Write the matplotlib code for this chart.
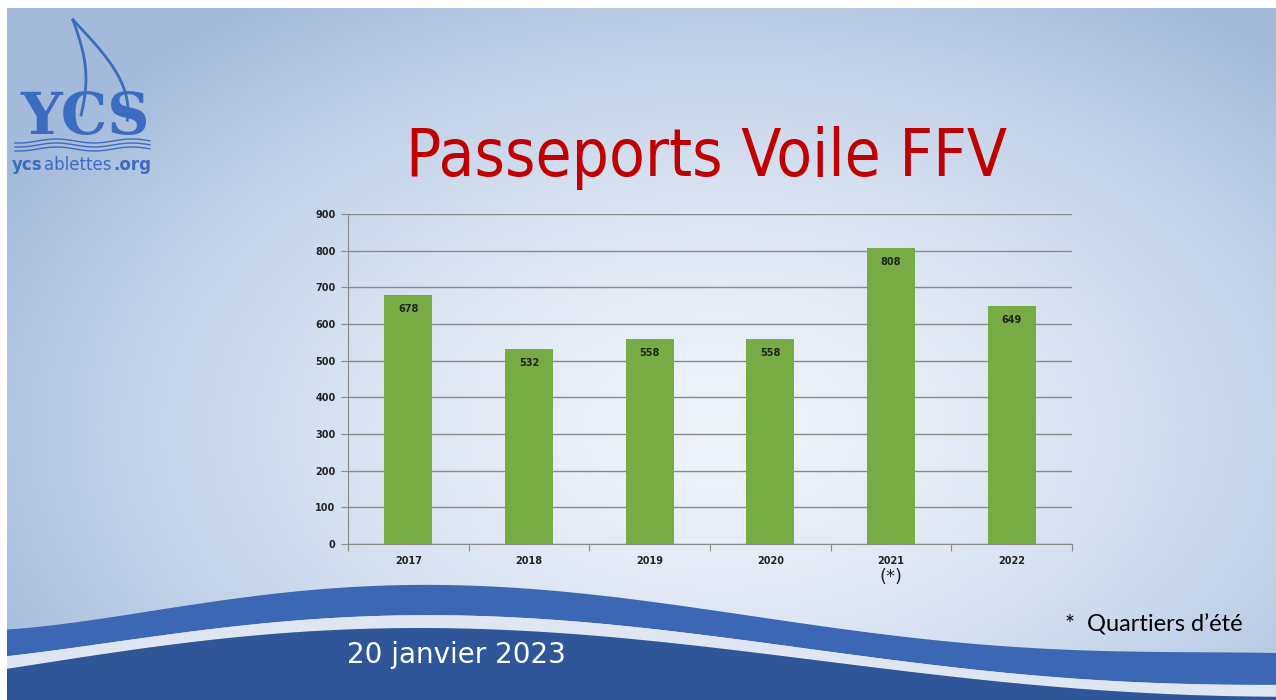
import numpy as np
import matplotlib
matplotlib.use("Agg")
import matplotlib.pyplot as plt

# ---- data -------------------------------------------------------------------
years = ["2017", "2018", "2019", "2020", "2021", "2022"]
passeports = [678, 532, 558, 558, 808, 649]
yticks = [0, 100, 200, 300, 400, 500, 600, 700, 800, 900]

W, H = 1276, 700
BAR = "#77ab43"
BLUE = "#3b67b4"
DARK = "#2e5698"

fig = plt.figure(figsize=(W / 100, H / 100), dpi=100)

# ---- slide background (pixel coords) ----------------------------------------
bg = fig.add_axes([0, 0, 1, 1], zorder=-1)
bg.set_xlim(0, W); bg.set_ylim(H, 0); bg.axis("off")

xx, yy = np.meshgrid(np.linspace(0, W, 320), np.linspace(0, H, 180))
r = np.sqrt(((xx - 720) / 820) ** 2 + ((yy - 430) / 520) ** 2)
r = np.clip(r, 0, 1)
c0 = np.array([0.93, 0.95, 0.98]); c1 = np.array([0.64, 0.73, 0.86])
img = c0 + (c1 - c0) * r[..., None] ** 1.6
bg.imshow(img, extent=(0, W, H, 0), aspect="auto", zorder=0)

# waves
xs = np.linspace(0, W, 400)
def curve(pts):
    px, py = zip(*pts)
    return np.polyval(np.polyfit(px, py, 5), xs)
top = curve([(0, 630), (244, 597), (407, 586), (651, 600), (814, 627),
             (976, 643), (1139, 652), (1276, 653)])
s1 = curve([(0, 657), (244, 625), (407, 616), (651, 628), (814, 650),
            (976, 670), (1139, 682), (1276, 685)])
s2 = curve([(0, 670), (244, 636), (407, 629), (651, 640), (814, 660),
            (976, 680), (1139, 692), (1276, 697)])
bg.fill_between(xs, top, s1, color=BLUE, zorder=1, lw=0)
bg.fill_between(xs, s1, s2, color="#dfe6f1", zorder=1, lw=0)
bg.fill_between(xs, s2, H, color=DARK, zorder=1, lw=0)

# white frame edges of the screenshot
bg.axhspan(0, 8, color="white", zorder=5, lw=0)
bg.axvspan(0, 7, color="white", zorder=5, lw=0)

# ---- logo -------------------------------------------------------------------
LOGO = "#3a6cc0"
t = np.linspace(0, 1, 60)
bg.plot(73 + 10 * np.sin(t * np.pi * 0.9) + 5 * t, 20 + 95 * t, color=LOGO, lw=2, zorder=3)
bg.plot(73 + 55 * np.sin(t * np.pi * 0.55), 20 + 100 * t, color=LOGO, lw=2, zorder=3)
bg.text(85, 118, "YCS", fontsize=42, fontweight="bold", family="DejaVu Serif",
        color=LOGO, ha="center", va="center", zorder=3)
for k in range(3):
    wx = np.linspace(15, 150, 80)
    bg.plot(wx, 141 + 4 * k + 2 * np.sin(wx / 12), color=LOGO, lw=1, zorder=3)
bg.text(12, 165, "ycs", fontsize=12, fontweight="bold", color=LOGO, va="center", zorder=3)
bg.text(44, 165, "ablettes", fontsize=12, color=LOGO, va="center", zorder=3)
bg.text(113, 165, ".org", fontsize=12, fontweight="bold", color=LOGO, va="center", zorder=3)

# ---- texts ------------------------------------------------------------------
bg.text(707, 158, "Passeports Voile FFV", fontsize=47, family="DejaVu Sans",
        fontstretch="condensed", color="#c00000", ha="center", va="center", zorder=3)
bg.text(456, 655, "20 janvier 2023", fontsize=20, family="DejaVu Sans",
        color="white", ha="center", va="center", zorder=3)
bg.text(1154, 625, "*  Quartiers d\u2019\u00e9t\u00e9", fontsize=17, family="Lato",
        color="black", ha="center", va="center", zorder=3)

# ---- chart ------------------------------------------------------------------
ax = fig.add_axes([348 / W, 1 - 544 / H, 724 / W, 330 / H])
ax.set_facecolor("none")
x = np.arange(len(years))
bars = ax.bar(x, passeports, width=0.4, color=BAR, zorder=3)
for xi, v in zip(x, passeports):
    ax.annotate(str(v), (xi, v), xytext=(0, -10), textcoords="offset points",
                ha="center", va="center", fontsize=7, fontweight="bold",
                color="#222222", zorder=4)

ax.set_xlim(-0.5, len(years) - 0.5)
ax.set_ylim(0, 900)
ax.set_yticks(yticks)
ax.set_yticklabels([str(v) for v in yticks], fontsize=7, fontweight="bold", color="#222222")
ax.yaxis.grid(True, color="#8a8a8a", lw=1, zorder=1)
ax.set_axisbelow(True)
for s in ("top", "right"):
    ax.spines[s].set_visible(False)
ax.spines["left"].set_color("#8a8a8a")
ax.spines["bottom"].set_color("#8a8a8a")
ax.tick_params(axis="y", length=5, color="#8a8a8a", pad=4)

# category ticks between bars, labels centred under bars
ax.set_xticks(np.arange(-0.5, len(years)), minor=False)
ax.set_xticklabels([])
ax.set_xticks(x, minor=True)
ax.set_xticklabels(years, minor=True, fontsize=7, fontweight="bold", color="#222222")
ax.tick_params(axis="x", which="major", length=5, color="#8a8a8a")
ax.tick_params(axis="x", which="minor", length=0, pad=9)
ax.annotate("(*)", (4, 0), xytext=(0, -24), textcoords="offset points",
            ha="center", va="center", fontsize=13, color="#222222",
            annotation_clip=False)

fig.savefig("out.png", dpi=100)
